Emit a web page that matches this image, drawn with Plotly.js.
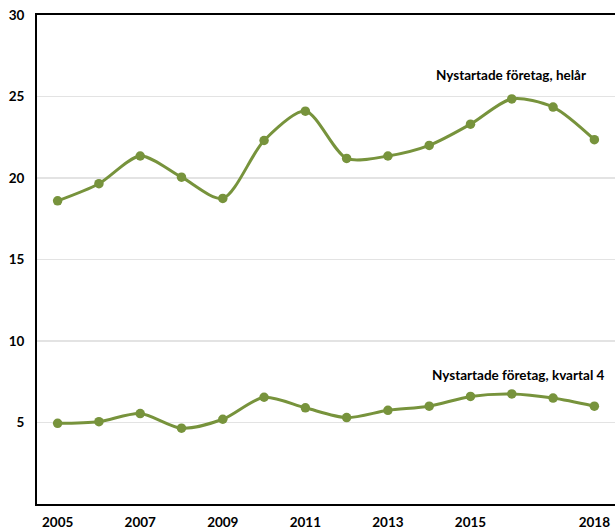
<!DOCTYPE html>
<html>
<head>
<meta charset="utf-8">
<script src="https://cdn.plot.ly/plotly-3.0.1.min.js"></script>
<style>html,body{margin:0;padding:0;background:#fff;}#chart{width:615px;height:531px;}</style>
</head>
<body>
<div id="chart"></div>
<script>
var years = [2005,2006,2007,2008,2009,2010,2011,2012,2013,2014,2015,2016,2017,2018];
var helar = [18.6,19.65,21.35,20.05,18.75,22.3,24.1,21.2,21.35,22.0,23.3,24.85,24.35,22.35];
var kvartal4 = [4.95,5.05,5.55,4.65,5.2,6.55,5.9,5.3,5.75,6.0,6.6,6.75,6.5,6.0];
var xTickVals = [2005,2007,2009,2011,2013,2015,2018];
var yTickVals = [5,10,15,20,25,30];
var labelHelar = "Nystartade företag, helår";
var labelKvartal = "Nystartade företag, kvartal 4";

var green = "#77933C";
var fam = "Lato, 'Liberation Sans', sans-serif";

function series(y, name) {
  return {
    x: years, y: y, name: name, type: "scatter", mode: "lines+markers",
    line: {color: green, width: 3, shape: "spline", smoothing: 0.8},
    marker: {color: green, size: 9.5},
    showlegend: false, hoverinfo: "x+y"
  };
}

var layout = {
  width: 615, height: 531,
  margin: {l: 37, r: 0, t: 15, b: 27, pad: 0},
  paper_bgcolor: "#fff", plot_bgcolor: "#fff",
  font: {family: fam, size: 13, color: "#000"},
  xaxis: {
    range: [2004.5, 2018.5], tickvals: xTickVals, ticktext: xTickVals.map(String),
    showgrid: false, zeroline: false, showline: true, linecolor: "#000", linewidth: 2,
    mirror: true, ticks: "", ticklabelstandoff: 5,
    tickfont: {family: fam, size: 13.5, color: "#000", weight: "bold"}
  },
  yaxis: {
    range: [0, 30], tickvals: yTickVals, showgrid: true, gridcolor: "#e3e3e3", gridwidth: 1.5,
    zeroline: false, showline: true, linecolor: "#000", linewidth: 2, ticks: "",
    ticklabelstandoff: 8,
    tickfont: {family: fam, size: 13.5, color: "#000", weight: "bold"}
  },
  annotations: [
    {x: 2017.85, y: 26.3, xref: "x", yref: "y", text: "<b>" + labelHelar + "</b>", showarrow: false,
     xanchor: "right", yanchor: "middle", font: {family: fam, size: 13.5, color: "#000"}},
    {x: 2018.3, y: 7.9, xref: "x", yref: "y", text: "<b>" + labelKvartal + "</b>", showarrow: false,
     xanchor: "right", yanchor: "middle", font: {family: fam, size: 13.5, color: "#000"}}
  ]
};

Plotly.newPlot("chart", [series(helar, labelHelar), series(kvartal4, labelKvartal)], layout, {displayModeBar: false, staticPlot: true});
</script>
</body>
</html>
